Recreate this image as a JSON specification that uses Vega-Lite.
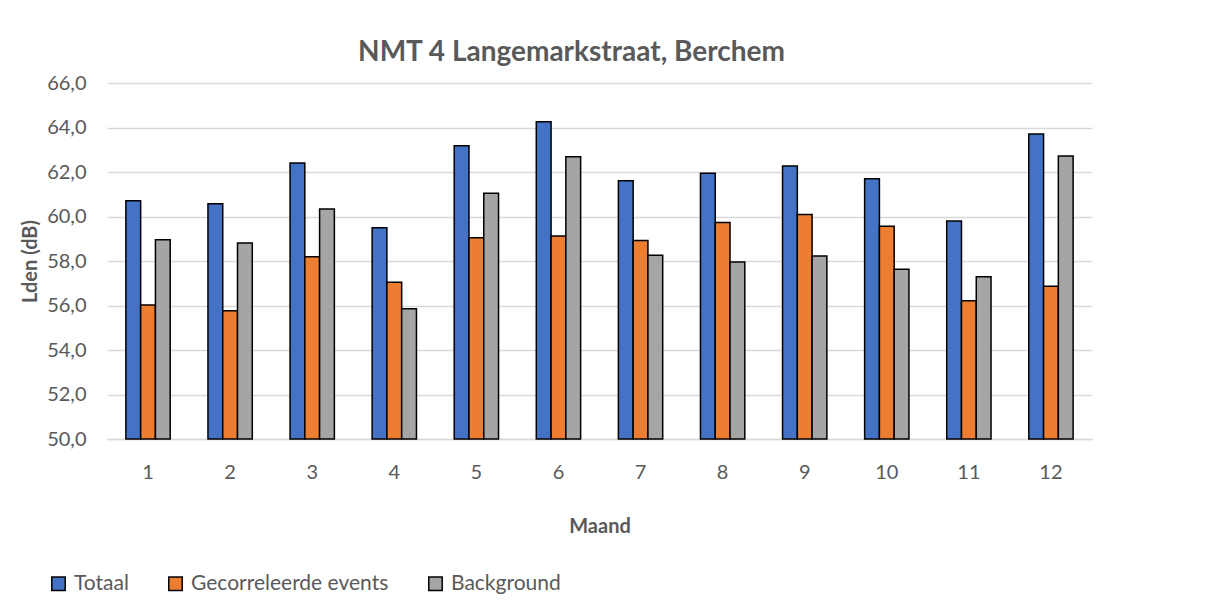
{
  "$schema": "https://vega.github.io/schema/vega-lite/v6.json",
  "width": 985,
  "height": 356,
  "autosize": {"type": "none"},
  "padding": {"left": 107, "top": 83, "right": 113, "bottom": 164},
  "background": "white",
  "title": {
    "text": "NMT 4 Langemarkstraat, Berchem",
    "font": "Lato",
    "fontSize": 28,
    "fontWeight": "bold",
    "color": "#595959",
    "anchor": "middle",
    "dx": -28,
    "baseline": "alphabetic",
    "offset": -16
  },
  "data": {
    "values": [
      {"maand": 1, "serie": "Totaal", "lden": 60.71},
      {"maand": 1, "serie": "Gecorreleerde events", "lden": 56.02},
      {"maand": 1, "serie": "Background", "lden": 58.95},
      {"maand": 2, "serie": "Totaal", "lden": 60.57},
      {"maand": 2, "serie": "Gecorreleerde events", "lden": 55.76},
      {"maand": 2, "serie": "Background", "lden": 58.81},
      {"maand": 3, "serie": "Totaal", "lden": 62.41},
      {"maand": 3, "serie": "Gecorreleerde events", "lden": 58.19},
      {"maand": 3, "serie": "Background", "lden": 60.34},
      {"maand": 4, "serie": "Totaal", "lden": 59.5},
      {"maand": 4, "serie": "Gecorreleerde events", "lden": 57.05},
      {"maand": 4, "serie": "Background", "lden": 55.85},
      {"maand": 5, "serie": "Totaal", "lden": 63.18},
      {"maand": 5, "serie": "Gecorreleerde events", "lden": 59.05},
      {"maand": 5, "serie": "Background", "lden": 61.05},
      {"maand": 6, "serie": "Totaal", "lden": 64.26},
      {"maand": 6, "serie": "Gecorreleerde events", "lden": 59.12},
      {"maand": 6, "serie": "Background", "lden": 62.69},
      {"maand": 7, "serie": "Totaal", "lden": 61.61},
      {"maand": 7, "serie": "Gecorreleerde events", "lden": 58.92},
      {"maand": 7, "serie": "Background", "lden": 58.26},
      {"maand": 8, "serie": "Totaal", "lden": 61.94},
      {"maand": 8, "serie": "Gecorreleerde events", "lden": 59.73},
      {"maand": 8, "serie": "Background", "lden": 57.95},
      {"maand": 9, "serie": "Totaal", "lden": 62.27},
      {"maand": 9, "serie": "Gecorreleerde events", "lden": 60.09},
      {"maand": 9, "serie": "Background", "lden": 58.23},
      {"maand": 10, "serie": "Totaal", "lden": 61.7},
      {"maand": 10, "serie": "Gecorreleerde events", "lden": 59.56},
      {"maand": 10, "serie": "Background", "lden": 57.63},
      {"maand": 11, "serie": "Totaal", "lden": 59.8},
      {"maand": 11, "serie": "Gecorreleerde events", "lden": 56.21},
      {"maand": 11, "serie": "Background", "lden": 57.29},
      {"maand": 12, "serie": "Totaal", "lden": 63.71},
      {"maand": 12, "serie": "Gecorreleerde events", "lden": 56.87},
      {"maand": 12, "serie": "Background", "lden": 62.72}
    ]
  },
  "mark": {"type": "bar", "stroke": "black", "strokeWidth": 1.5},
  "encoding": {
    "x": {
      "field": "maand",
      "type": "ordinal",
      "scale": {"paddingInner": 0.46, "paddingOuter": 0.23},
      "axis": {
        "title": "Maand",
        "labelAngle": 0,
        "labelPadding": 23,
        "titlePadding": 34,
        "ticks": false,
        "domainColor": "#d9d9d9",
        "domainWidth": 1.5
      }
    },
    "xOffset": {
      "field": "serie",
      "type": "nominal",
      "sort": ["Totaal", "Gecorreleerde events", "Background"]
    },
    "y": {
      "field": "lden",
      "type": "quantitative",
      "scale": {"domain": [50, 66], "zero": false, "nice": false},
      "axis": {
        "title": "Lden (dB)",
        "values": [50, 52, 54, 56, 58, 60, 62, 64, 66],
        "labelExpr": "replace(format(datum.value, '.1f'), '.', ',')",
        "labelPadding": 21,
        "titlePadding": 6,
        "ticks": false,
        "domain": false,
        "grid": true,
        "gridColor": "#d9d9d9",
        "gridWidth": 1.5
      }
    },
    "y2": {"datum": 50},
    "color": {
      "field": "serie",
      "type": "nominal",
      "sort": ["Totaal", "Gecorreleerde events", "Background"],
      "scale": {
        "domain": ["Totaal", "Gecorreleerde events", "Background"],
        "range": ["#4472C4", "#ED7D31", "#A5A5A5"]
      },
      "legend": {
        "title": null,
        "orient": "none",
        "direction": "horizontal",
        "legendX": -59,
        "legendY": 490,
        "symbolType": "square",
        "symbolSize": 180,
        "symbolStrokeColor": "black",
        "symbolStrokeWidth": 1.5,
        "labelOffset": 5,
        "labelLimit": 0,
        "columnPadding": 36
      }
    }
  },
  "config": {
    "view": {"stroke": null},
    "font": "Lato",
    "axis": {
      "labelFont": "Lato",
      "labelFontSize": 20,
      "labelColor": "#595959",
      "titleFont": "Lato",
      "titleFontSize": 20,
      "titleFontWeight": "bold",
      "titleColor": "#595959"
    },
    "legend": {
      "labelFont": "Lato",
      "labelFontSize": 21,
      "labelColor": "#595959"
    }
  }
}
